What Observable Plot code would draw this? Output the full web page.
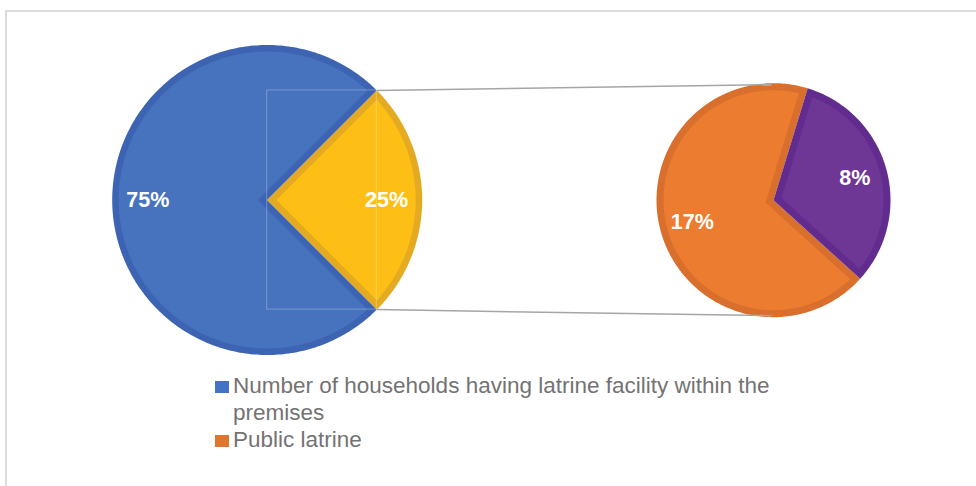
<!DOCTYPE html>
<html>
<head>
<meta charset="utf-8">
<script src="https://cdn.jsdelivr.net/npm/d3@7"></script>
<script src="https://cdn.jsdelivr.net/npm/@observablehq/plot@0.6"></script>
<style>
  html, body { margin: 0; padding: 0; background: #fff; overflow: hidden; width: 976px; height: 486px; }
  #frame { position: absolute; left: 5px; top: 10px; width: 1200px; height: 1000px; border: 2px solid #dcdcdc; box-sizing: border-box; }
  #chart { position: absolute; left: 0; top: 0; }
  #legend { position: absolute; left: 215px; top: 372.3px; font-family: "Liberation Sans", Arial, sans-serif; font-size: 22.5px; line-height: 27px; color: #737373; }
  .item { display: flex; align-items: flex-start; }
  .sw { width: 14px; height: 12px; margin-top: 8.7px; margin-right: 4px; flex: none; }
  .txt { max-width: 580px; }
</style>
</head>
<body>
<div id="frame"></div>
<div id="chart"></div>
<div id="legend"></div>
<script>
// ---- data ----
const primaryCategories = ["Number of households having latrine facility within the premises", "Other"];
const primaryValues = [75, 25];
const secondaryCategories = ["Public latrine", "Other facility"];
const secondaryValues = [17, 8];
const legendLabels = ["Number of households having latrine facility within the premises", "Public latrine"];

// ---- styles / layout ----
const primaryColors = [{light: "#4672BE", dark: "#3C64B2"}, {light: "#FDBF16", dark: "#E4AB22"}];
const secondaryColors = [{light: "#EC7C30", dark: "#D86F2C"}, {light: "#6E3695", dark: "#612C8E"}];
const legendColors = ["#4472C4", "#E0762E"];
const W = 976, H = 370;
const P = {cx: 266.7, cy: 199.5, r: 155, band: 6.5, labelR: 0.77};
const S = {cx: 773, cy: 199.7, r: 117, band: 7, labelR: 0.72, rotation: 17};

const rad = Math.PI / 180;
function wedge(cx, cy, r, a0, a1, inset) {
  const half = (a1 - a0) / 2 * rad;
  const mid = (a0 + a1) / 2 * rad;
  const d = inset > 0 ? inset / Math.sin(half) : 0;
  const R = r - inset;
  const delta = inset > 0 ? Math.asin(inset / R) / rad : 0;
  const b0 = a0 + delta, b1 = a1 - delta;
  const pts = [[cx + d * Math.sin(mid), cy - d * Math.cos(mid)]];
  const n = Math.max(2, Math.ceil(b1 - b0));
  for (let i = 0; i <= n; i++) {
    const a = (b0 + (b1 - b0) * i / n) * rad;
    pts.push([cx + R * Math.sin(a), cy - R * Math.cos(a)]);
  }
  pts.push(pts[0]);
  return pts;
}

// primary angles: last ("other") slice centred on the right (90deg)
const pTotal = d3.sum(primaryValues);
const otherSpan = primaryValues[1] / pTotal * 360;
const pSlices = [];
{
  const oStart = 90 - otherSpan / 2;
  const oEnd = 90 + otherSpan / 2;
  pSlices.push({i: 0, a0: oEnd, a1: oEnd + primaryValues[0] / pTotal * 360});
  pSlices.push({i: 1, a0: oStart, a1: oEnd});
}
// secondary angles
const sTotal = d3.sum(secondaryValues);
const sSlices = [];
{
  const purpleSpan = secondaryValues[1] / sTotal * 360;
  const pa0 = S.rotation, pa1 = S.rotation + purpleSpan;
  sSlices.push({i: 0, a0: pa1, a1: pa1 + secondaryValues[0] / sTotal * 360});
  sSlices.push({i: 1, a0: pa0, a1: pa1});
}

const polys = [];
let pid = 0;
function addSlice(geo, s, colors) {
  wedge(geo.cx, geo.cy, geo.r, s.a0, s.a1, 0).forEach(([x, y]) => polys.push({id: pid, x, y, c: colors[s.i].dark}));
  pid++;
  wedge(geo.cx, geo.cy, geo.r, s.a0, s.a1, geo.band).forEach(([x, y]) => polys.push({id: pid, x, y, c: colors[s.i].light}));
  pid++;
}
pSlices.forEach(s => addSlice(P, s, primaryColors));
sSlices.forEach(s => addSlice(S, s, secondaryColors));

const labels = [];
function addLabel(geo, s, value) {
  const m = (s.a0 + s.a1) / 2 * rad;
  const d = geo.r * geo.labelR;
  labels.push({x: geo.cx + d * Math.sin(m), y: geo.cy - d * Math.cos(m), t: value + "%"});
}
pSlices.forEach(s => addLabel(P, s, primaryValues[s.i]));
sSlices.forEach(s => addLabel(S, s, secondaryValues[s.i]));

// connectors from the edges of the "other" slice to the secondary pie top/bottom
const oS = pSlices[1];
const connectors = [
  {x1: P.cx + P.r * Math.sin(oS.a0 * rad), y1: P.cy - P.r * Math.cos(oS.a0 * rad), x2: S.cx - 2, y2: S.cy - S.r + 1.5},
  {x1: P.cx + P.r * Math.sin(oS.a1 * rad), y1: P.cy - P.r * Math.cos(oS.a1 * rad), x2: S.cx - 2, y2: S.cy + S.r - 1.5}
];
const frameRect = [{x1: P.cx, x2: connectors[0].x1, y1: connectors[0].y1, y2: connectors[1].y1}];

const chart = Plot.plot({
  width: W, height: H,
  margin: 0,
  x: {domain: [0, W], range: [0, W], axis: null},
  y: {domain: [0, H], range: [0, H], axis: null},
  color: {type: "identity"},
  style: {background: "transparent"},
  marks: [
    Plot.line(polys, {x: "x", y: "y", z: "id", fill: "c", stroke: "none", curve: "linear"}),
    Plot.rect(frameRect, {x1: "x1", x2: "x2", y1: "y1", y2: "y2", fill: "none", stroke: "rgba(255,255,255,0.28)", strokeWidth: 1}),
    Plot.link(connectors, {x1: "x1", y1: "y1", x2: "x2", y2: "y2", stroke: "#a6a6a6", strokeWidth: 1.5}),
    Plot.text(labels, {x: "x", y: "y", text: "t", fill: "white", fontSize: 21.5, fontWeight: "bold", fontFamily: "Liberation Sans, Arial, sans-serif", textAnchor: "middle"})
  ]
});
document.getElementById("chart").appendChild(chart);

const legend = document.getElementById("legend");
legendLabels.forEach((lab, i) => {
  const it = document.createElement("div");
  it.className = "item";
  const sw = document.createElement("div");
  sw.className = "sw";
  sw.style.background = legendColors[i];
  const tx = document.createElement("div");
  tx.className = "txt";
  tx.textContent = lab;
  it.appendChild(sw); it.appendChild(tx);
  legend.appendChild(it);
});
</script>
</body>
</html>
